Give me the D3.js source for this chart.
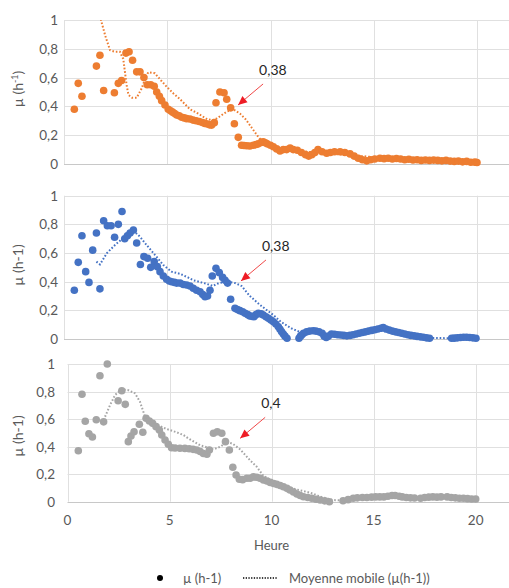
<!DOCTYPE html>
<html><head><meta charset="utf-8">
<script src="https://cdn.jsdelivr.net/npm/d3@7"></script>
<style>body{margin:0;background:#fff;} svg{display:block;font-family:Lato,"Open Sans",sans-serif;}</style>
</head><body><svg id="c" width="509" height="588"></svg>
<script>
// ---------- data (time in hours, µ in h-1) ----------
const xTicks = [0, 5, 10, 15, 20];
const yTicks = [0, 0.2, 0.4, 0.6, 0.8, 1];
const yTickLabels = ["0", "0,2", "0,4", "0,6", "0,8", "1"];

const orangeMu = [[0.5,0.38],[0.69,0.56],[0.87,0.47],[1.57,0.68],[1.74,0.755],[1.92,0.51],[2.44,0.495],[2.63,0.56],[2.79,0.58],[3.0,0.77],[3.15,0.78],[3.32,0.72],[3.52,0.64],[3.68,0.64],[3.87,0.60],[4.03,0.55],[4.2,0.55],[4.37,0.54],[4.49,0.50],[4.62,0.47],[4.73,0.44],[4.89,0.41],[5.05,0.38],[5.16,0.37],[5.26,0.36],[5.36,0.35],[5.46,0.34],[5.58,0.335],[5.7,0.325],[5.82,0.32],[5.94,0.315],[6.1,0.312],[6.25,0.305],[6.4,0.30],[6.55,0.295],[6.7,0.288],[6.82,0.282],[6.95,0.278],[7.05,0.272],[7.15,0.27],[7.28,0.287],[7.36,0.425],[7.55,0.50],[7.75,0.495],[7.88,0.45],[8.07,0.39],[8.25,0.28],[8.44,0.185],[8.6,0.13],[8.72,0.128],[8.85,0.127],[9.0,0.125],[9.17,0.13],[9.3,0.135],[9.41,0.14],[9.55,0.15],[9.65,0.155],[9.75,0.148],[9.84,0.14],[10.0,0.13],[10.14,0.12],[10.3,0.105],[10.46,0.09],[10.62,0.10],[10.78,0.10],[10.95,0.11],[11.1,0.10],[11.3,0.095],[11.5,0.08],[11.7,0.065],[11.85,0.055],[12.0,0.065],[12.15,0.08],[12.3,0.10],[12.5,0.085],[12.72,0.075],[12.9,0.08],[13.1,0.085],[13.37,0.085],[13.6,0.08],[13.85,0.07],[14.05,0.055],[14.25,0.04],[14.45,0.03],[14.66,0.022],[14.85,0.03],[15.05,0.035],[15.3,0.04],[15.5,0.037],[15.7,0.04],[15.9,0.035],[16.1,0.038],[16.3,0.035],[16.5,0.03],[16.7,0.033],[16.9,0.028],[17.1,0.03],[17.3,0.025],[17.5,0.028],[17.7,0.025],[17.9,0.027],[18.1,0.025],[18.3,0.022],[18.5,0.025],[18.7,0.02],[18.9,0.018],[19.1,0.02],[19.3,0.015],[19.5,0.018],[19.7,0.012],[19.9,0.013],[20.0,0.01]];
const orangeMA = [[1.6,1.1],[1.79,1.0],[2.0,0.89],[2.23,0.79],[2.45,0.78],[2.71,0.78],[2.8,0.75],[2.87,0.73],[2.95,0.64],[3.03,0.55],[3.12,0.48],[3.3,0.46],[3.52,0.46],[3.76,0.525],[3.95,0.6],[4.08,0.637],[4.4,0.63],[4.7,0.58],[4.97,0.537],[5.3,0.49],[5.62,0.45],[6.1,0.38],[6.5,0.35],[6.94,0.31],[7.2,0.305],[7.4,0.317],[7.88,0.363],[8.2,0.38],[8.52,0.35],[8.8,0.31],[9.1,0.25],[9.4,0.19],[9.65,0.15],[10.5,0.11],[12,0.08],[14,0.06],[16,0.035],[18,0.025],[20,0.015]];

const blueMu = [[0.5,0.34],[0.69,0.535],[0.87,0.72],[1.05,0.47],[1.21,0.395],[1.39,0.62],[1.57,0.74],[1.74,0.35],[1.92,0.825],[2.1,0.79],[2.28,0.79],[2.45,0.71],[2.63,0.80],[2.81,0.89],[2.94,0.70],[3.07,0.72],[3.2,0.74],[3.36,0.76],[3.52,0.67],[3.7,0.52],[3.87,0.575],[4.05,0.563],[4.2,0.50],[4.37,0.54],[4.52,0.505],[4.65,0.47],[4.81,0.44],[4.97,0.417],[5.1,0.405],[5.21,0.40],[5.35,0.395],[5.46,0.39],[5.62,0.39],[5.78,0.38],[5.94,0.377],[6.1,0.37],[6.26,0.354],[6.42,0.34],[6.59,0.33],[6.72,0.31],[6.83,0.295],[6.95,0.30],[7.07,0.34],[7.18,0.44],[7.36,0.493],[7.52,0.463],[7.68,0.43],[7.8,0.41],[7.92,0.39],[8.07,0.277],[8.28,0.214],[8.4,0.205],[8.52,0.198],[8.65,0.19],[8.77,0.18],[8.9,0.17],[9.0,0.16],[9.1,0.158],[9.2,0.156],[9.3,0.17],[9.41,0.18],[9.55,0.175],[9.65,0.168],[9.78,0.155],[9.9,0.144],[10.02,0.132],[10.14,0.12],[10.26,0.105],[10.38,0.086],[10.46,0.068],[10.54,0.05],[10.62,0.035],[10.7,0.02],[10.8,0.005],[11.38,0.005],[11.45,0.02],[11.51,0.028],[11.6,0.04],[11.75,0.05],[11.9,0.055],[12.07,0.058],[12.2,0.055],[12.35,0.05],[12.5,0.04],[12.6,0.02],[12.7,0.01],[12.8,0.02],[12.95,0.035],[13.1,0.033],[13.25,0.03],[13.4,0.028],[13.55,0.025],[13.7,0.022],[13.85,0.025],[14.0,0.03],[14.15,0.035],[14.3,0.04],[14.45,0.045],[14.6,0.05],[14.75,0.055],[14.9,0.06],[15.05,0.065],[15.2,0.07],[15.35,0.075],[15.46,0.08],[15.6,0.07],[15.75,0.062],[15.9,0.055],[16.05,0.05],[16.2,0.045],[16.35,0.04],[16.5,0.035],[16.65,0.03],[16.8,0.025],[16.95,0.022],[17.1,0.018],[17.25,0.015],[17.4,0.012],[17.55,0.008],[17.7,0.005],[18.77,0.005],[18.9,0.006],[19.05,0.008],[19.2,0.01],[19.35,0.012],[19.5,0.012],[19.65,0.01],[19.8,0.008],[19.95,0.005]];
const blueMA = [[1.57,0.54],[1.74,0.52],[2.07,0.598],[2.47,0.656],[2.95,0.714],[3.36,0.756],[3.68,0.714],[4.0,0.656],[4.41,0.586],[4.81,0.516],[5.21,0.47],[5.62,0.455],[6.0,0.43],[6.26,0.41],[6.91,0.385],[7.2,0.37],[7.5,0.39],[7.9,0.40],[8.3,0.39],[8.6,0.37],[9.0,0.30],[9.5,0.237],[10.14,0.167],[10.5,0.12],[11.0,0.075],[11.4,0.05],[12,0.05],[13,0.03],[14,0.03],[15,0.06],[16,0.05],[17,0.02],[17.7,0.008],[18.77,0.005],[20,0.005]];

const grayMu = [[0.53,0.37],[0.71,0.78],[0.87,0.584],[1.05,0.494],[1.22,0.47],[1.41,0.595],[1.59,0.915],[1.77,0.58],[1.95,1.0],[2.48,0.733],[2.66,0.806],[2.83,0.707],[2.98,0.436],[3.11,0.477],[3.26,0.508],[3.52,0.562],[3.69,0.504],[3.85,0.606],[4.01,0.586],[4.17,0.569],[4.34,0.545],[4.5,0.52],[4.62,0.484],[4.78,0.448],[4.94,0.417],[5.1,0.392],[5.27,0.39],[5.51,0.388],[5.75,0.387],[5.96,0.385],[6.15,0.38],[6.33,0.375],[6.5,0.365],[6.66,0.35],[6.83,0.345],[6.95,0.375],[7.15,0.497],[7.34,0.508],[7.56,0.497],[7.74,0.436],[7.93,0.375],[8.1,0.25],[8.26,0.194],[8.42,0.163],[8.58,0.16],[8.79,0.17],[8.95,0.17],[9.11,0.18],[9.27,0.178],[9.43,0.17],[9.6,0.158],[9.77,0.15],[9.93,0.14],[10.1,0.132],[10.25,0.126],[10.42,0.118],[10.58,0.109],[10.75,0.097],[10.9,0.085],[11.07,0.07],[11.24,0.056],[11.4,0.045],[11.56,0.036],[11.77,0.03],[11.97,0.025],[12.18,0.018],[12.38,0.012],[12.6,0.006],[12.83,0.0],[13.5,0.007],[13.75,0.015],[14.0,0.025],[14.2,0.028],[14.45,0.03],[14.67,0.03],[14.9,0.033],[15.1,0.035],[15.3,0.035],[15.5,0.035],[15.7,0.04],[15.9,0.045],[16.05,0.045],[16.25,0.04],[16.4,0.035],[16.6,0.03],[16.8,0.028],[17.0,0.027],[17.3,0.025],[17.5,0.03],[17.7,0.033],[17.9,0.035],[18.1,0.033],[18.3,0.035],[18.6,0.035],[18.8,0.03],[19.0,0.028],[19.2,0.025],[19.4,0.025],[19.6,0.022],[19.8,0.02],[20.0,0.02]];
const grayMA = [[1.84,0.617],[2.08,0.70],[2.33,0.775],[2.66,0.816],[2.98,0.81],[3.31,0.787],[3.55,0.726],[3.8,0.617],[4.2,0.57],[4.86,0.528],[5.35,0.504],[5.68,0.484],[5.92,0.46],[6.5,0.41],[7.15,0.38],[7.5,0.40],[7.8,0.436],[8.1,0.42],[8.46,0.38],[8.95,0.30],[9.27,0.254],[9.6,0.187],[10.2,0.14],[10.9,0.10],[11.9,0.065],[12.4,0.036],[13.0,0.012],[13.3,0.01],[14,0.02],[16,0.04],[18,0.03],[20,0.02]];

const annotLabels = ["0,38", "0,38", "0,4"];
const annotTips = [[8.43, 0.41], [8.57, 0.405], [8.46, 0.46]];
const legendLabels = ["µ (h-1)", "Moyenne mobile (µ(h-1))"];
const xTitle = "Heure";

// ---------- layout ----------
const svg = d3.select("#c");
const W = 509;
const textCol = "#595959";
const panels = [
  {mu: orangeMu, ma: orangeMA, color: "#ED7D31", x0: 64, x1: 477, top: 20, bot: 164, tickX: 58, labCy: 89, sup: true},
  {mu: blueMu, ma: blueMA, color: "#4472C4", x0: 64, x1: 477, top: 195.7, bot: 339, tickX: 58, labCy: 265, sup: false},
  {mu: grayMu, ma: grayMA, color: "#A5A5A5", x0: 67.5, x1: 475.7, top: 364, bot: 501.7, tickX: 55, labCy: 436, sup: false}
];

panels.forEach((p, i) => {
  const x = d3.scaleLinear().domain([0, 20]).range([p.x0, p.x1]);
  const y = d3.scaleLinear().domain([0, 1]).range([p.bot, p.top]);
  const g = svg.append("g");

  g.selectAll("line.h").data(yTicks).join("line")
    .attr("x1", x(0)).attr("x2", W)
    .attr("y1", d => Math.round(y(d)) + 0.5).attr("y2", d => Math.round(y(d)) + 0.5)
    .attr("stroke", d => d === 0 ? "#c8c8c8" : "#e0e0e0").attr("stroke-width", 1);
  g.selectAll("line.v").data(xTicks).join("line")
    .attr("x1", d => Math.round(x(d)) + 0.5).attr("x2", d => Math.round(x(d)) + 0.5)
    .attr("y1", y(1)).attr("y2", y(0))
    .attr("stroke", "#e0e0e0").attr("stroke-width", 1);

  g.selectAll("text.yt").data(yTicks).join("text")
    .attr("x", p.tickX).attr("y", d => y(d) + 5)
    .attr("text-anchor", "end").attr("fill", textCol).attr("font-size", 13.5)
    .text((d, k) => yTickLabels[k]);

  const yt = g.append("text")
    .attr("transform", `translate(23,${p.labCy}) rotate(-90)`)
    .attr("text-anchor", "middle").attr("fill", textCol).attr("font-size", 14);
  if (p.sup) {
    yt.append("tspan").text("µ (h");
    yt.append("tspan").attr("font-size", 9).attr("dy", -5).text("-1");
    yt.append("tspan").attr("dy", 5).text(")");
  } else {
    yt.text("µ (h-1)");
  }

  const cid = "clip" + i;
  svg.append("clipPath").attr("id", cid).append("rect")
    .attr("x", x(0)).attr("y", y(1)).attr("width", W - x(0)).attr("height", y(0) - y(1) + 2);

  const line = d3.line().x(d => x(d[0])).y(d => y(d[1]));
  g.append("path").datum(p.ma).attr("d", line)
    .attr("fill", "none").attr("stroke", p.color).attr("stroke-width", 2)
    .attr("stroke-dasharray", "1.6,1.9").attr("clip-path", `url(#${cid})`);

  g.selectAll("circle").data(p.mu).join("circle")
    .attr("cx", d => x(d[0])).attr("cy", d => y(d[1])).attr("r", 3.8)
    .attr("fill", p.color);

  const tip = annotTips[i];
  const tx = x(tip[0]), ty = y(tip[1]);
  const sx = tx + 25, sy = ty - 21;
  g.append("line").attr("x1", sx).attr("y1", sy).attr("x2", tx).attr("y2", ty)
    .attr("stroke", "#f04848").attr("stroke-width", 1);
  const ang = Math.atan2(ty - sy, tx - sx);
  const L = 9, Wd = 4;
  const bx = tx - L * Math.cos(ang), by = ty - L * Math.sin(ang);
  const px = -Math.sin(ang) * Wd, py = Math.cos(ang) * Wd;
  g.append("path")
    .attr("d", `M${tx},${ty}L${bx + px},${by + py}L${bx - px},${by - py}Z`)
    .attr("fill", "#ee1c25");
  g.append("text").attr("x", tx + 21).attr("y", ty - 30)
    .attr("fill", "#262626").attr("font-size", 14).text(annotLabels[i]);

  if (i === 2) {
    g.selectAll("text.xt").data(xTicks).join("text")
      .attr("x", d => x(d)).attr("y", 525).attr("text-anchor", "middle")
      .attr("fill", textCol).attr("font-size", 13.5).text(d => d);
    g.append("text").attr("x", x(10)).attr("y", 550).attr("text-anchor", "middle")
      .attr("fill", textCol).attr("font-size", 13).text(xTitle);
  }
});

const lg = svg.append("g");
lg.append("circle").attr("cx", 160).attr("cy", 578).attr("r", 3).attr("fill", "#000");
lg.append("text").attr("x", 183).attr("y", 582.5).attr("fill", textCol).attr("font-size", 13).text(legendLabels[0]);
lg.append("line").attr("x1", 243).attr("x2", 277).attr("y1", 578).attr("y2", 578)
  .attr("stroke", "#000").attr("stroke-width", 1.5).attr("stroke-dasharray", "1.3,1.4");
lg.append("text").attr("x", 289).attr("y", 582.5).attr("fill", textCol).attr("font-size", 13).text(legendLabels[1]);
</script></body></html>
